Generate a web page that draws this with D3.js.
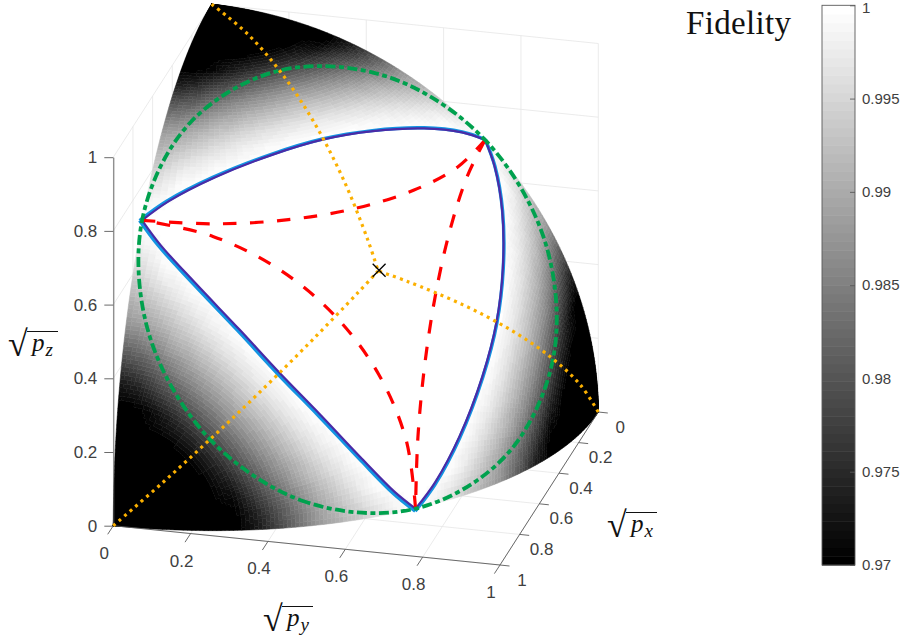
<!DOCTYPE html>
<html>
<head>
<meta charset="utf-8">
<script src="https://cdnjs.cloudflare.com/ajax/libs/d3/7.8.5/d3.min.js"></script>
<style>
  html, body { margin: 0; background: #fff; }
  svg { display: block; }
  .tick-label { font-family: "Liberation Sans", sans-serif; fill: #404040; }
  .math { font-family: "Liberation Serif", serif; fill: #111; }
</style>
</head>
<body>
<div id="chart"></div>
<script>
// fidelity read off the picture around one corner of the octant (the three corners look alike)
// rows: degrees away from the corner, columns: degrees around it, 45 to 90 mirrors 45 to 0
var capAngles = [0, 3, 6, 9, 12, 15, 18, 21, 24, 27, 30, 33, 36, 39, 42, 45];
var aroundAngles = [0, 7.5, 15, 22.5, 30, 37.5, 45];
var capFidelity = [
  [.97,.97,.97,.97,.97,.97,.97],
  [.97,.97,.97,.97,.97,.97,.97],
  [.97,.97,.97,.97,.97,.97,.97],
  [.97,.97,.97,.97,.97,.97,.97],
  [.97,.97,.97,.97,.97,.97,.97],
  [.97,.97,.97,.97,.97,.97,.97],
  [.97,.97,.9708,.9726,.9741,.975,.9754],
  [.9727,.9743,.9769,.9789,.9805,.9814,.9819],
  [.9781,.9798,.9825,.9847,.9863,.9873,.9878],
  [.9832,.9849,.9877,.9899,.9915,.9924,.9929],
  [.9878,.9895,.9924,.9944,.9959,.9967,.9971],
  [.9905,.9933,.996,.998,.9992,.9997,.9999],
  [.9933,.9968,.999,1,1,1,1],
  [.9957,.9994,1,1,1,1,1],
  [.9983,1,1,1,1,1,1],
  [1,1,1,1,1,1,1]
];

var axisTicks = [0, 0.2, 0.4, 0.6, 0.8, 1];
var tickNames = ["0", "0.2", "0.4", "0.6", "0.8", "1"];
var colorbarTicks = [0.97, 0.975, 0.98, 0.985, 0.99, 0.995, 1];
var colorbarNames = ["0.97", "0.975", "0.98", "0.985", "0.99", "0.995", "1"];

// curves on the sphere, [sqrt px, sqrt py, sqrt pz]
var outline = [
  [1,0,0],[.966,.259,0],[.866,.5,0],[.707,.707,0],[.5,.866,0],[.259,.966,0],
  [0,1,0],[0,.966,.259],[0,.866,.5],[0,.707,.707],[0,.5,.866],[0,.259,.966],
  [0,0,1],[.259,0,.966],[.5,0,.866],[.707,0,.707],[.866,0,.5],[.966,0,.259]
];
var greenCircle = [
  [.7071,.7071,0],[.8796,.4714,.0632],[.9429,.2357,.2357],[.8796,.0632,.4714],
  [.7071,0,.7071],[.4714,.0632,.8796],[.2357,.2357,.9429],[.0632,.4714,.8796],
  [0,.7071,.7071],[.0632,.8796,.4714],[.2357,.9429,.2357],[.4714,.8796,.0632]
];
var orangeTop = [[0,0,1],[.1228,.1228,.9848],[.2418,.2418,.9397],[.3536,.3536,.866],[.4545,.4545,.766],[.5417,.5417,.6428],[.5774,.5774,.5774]];
var orangeLeft = [[1,0,0],[.9848,.1228,.1228],[.9397,.2418,.2418],[.866,.3536,.3536],[.766,.4545,.4545],[.6428,.5417,.5417],[.5774,.5774,.5774]];
var orangeRight = [[0,1,0],[.1228,.9848,.1228],[.2418,.9397,.2418],[.3536,.866,.3536],[.4545,.766,.4545],[.5417,.6428,.5417],[.5774,.5774,.5774]];
var redTop = [[.7071,0,.7071],[.683,.183,.7071],[.612,.354,.7071],[.5,.5,.7071],[.354,.612,.7071],[.183,.683,.7071],[0,.7071,.7071]];
var redLeft = [[.7071,.7071,0],[.7071,.683,.183],[.7071,.612,.354],[.7071,.5,.5],[.7071,.354,.612],[.7071,.183,.683],[.7071,0,.7071]];
var redRight = [[0,.7071,.7071],[.183,.7071,.683],[.354,.7071,.612],[.5,.7071,.5],[.612,.7071,.354],[.683,.7071,.183],[.7071,.7071,0]];
var blueLeft = [[.7071,.7071,0],[.7468,.6625,.058],[.7916,.59,.158],[.825,.489,.2825],[.8355,.388,.388],[.825,.2825,.489],[.7916,.158,.59],[.7468,.058,.6625],[.7071,0,.7071]];
var blueTop = [[.7071,0,.7071],[.6625,.058,.7468],[.59,.158,.7916],[.489,.2825,.825],[.388,.388,.8355],[.2825,.489,.825],[.158,.59,.7916],[.058,.6625,.7468],[0,.7071,.7071]];
var blueRight = [[0,.7071,.7071],[.058,.7468,.6625],[.158,.7916,.59],[.2825,.825,.489],[.388,.8355,.388],[.489,.825,.2825],[.59,.7916,.158],[.6625,.7468,.058],[.7071,.7071,0]];
var centerPoint = [.5774,.5774,.5774];

var svg = d3.select("#chart").append("svg")
    .attr("width", 905)
    .attr("height", 641);

// oblique projection of the matlab view, one scale per screen component
var xToLeft = d3.scaleLinear().domain([0,1]).range([0,-98.3]);
var xToTop = d3.scaleLinear().domain([0,1]).range([0,153]);
var yToLeft = d3.scaleLinear().domain([0,1]).range([0,386.7]);
var yToTop = d3.scaleLinear().domain([0,1]).range([0,39.3]);
var zToTop = d3.scaleLinear().domain([0,1]).range([0,-368.5]);

function project(p) {
  return [211.6 + xToLeft(p[0]) + yToLeft(p[1]),
          372.7 + xToTop(p[0]) + yToTop(p[1]) + zToTop(p[2])];
}

var curve = d3.line().curve(d3.curveCatmullRom.alpha(0.5));
function path3d(points) { return curve(points.map(project)); }

// Back walls and floor grid
var grid = svg.append("g")
    .attr("fill", "none")
    .attr("stroke", "#e6e6e6")
    .attr("stroke-width", 0.8);

function gridLine(a, b) {
  grid.append("path").attr("d", d3.line()([project(a), project(b)]));
}

axisTicks.forEach(function(t) {
  gridLine([t,0,0], [t,1,0]);
  gridLine([0,t,0], [1,t,0]);
  gridLine([t,0,0], [t,0,1]);
  gridLine([0,t,0], [0,t,1]);
  gridLine([1,0,t], [0,0,t]);
  gridLine([0,0,t], [0,1,t]);
});

// Surface, split in 64 gray levels like the colormap
var level = d3.scaleQuantize().domain([0.97, 1]).range(d3.range(64));
var gray = d3.scaleLinear().domain([0, 63]).range(["#000000", "#ffffff"]);
var levelPaths = d3.range(64).map(function() { return d3.path(); });
var rad = Math.PI / 180;
var sub = 5;

// white middle of the octant, the caps around the corners go on top
svg.append("path")
    .attr("d", d3.line()(outline.map(project)) + "Z")
    .attr("fill", "#fff");

function capValue(ti, ai) {
  return capFidelity[ti][ai > 6 ? 12 - ai : ai];
}

function aroundAngle(ai) {
  return ai > 6 ? 90 - aroundAngles[12 - ai] : aroundAngles[ai];
}

// axes of one corner: [corner, first side, second side]
[[0,1,2], [1,2,0], [2,0,1]].forEach(function(order) {
  function point(theta, around) {
    var p = [0,0,0];
    p[order[0]] = Math.cos(theta * rad);
    p[order[1]] = Math.sin(theta * rad) * Math.cos(around * rad);
    p[order[2]] = Math.sin(theta * rad) * Math.sin(around * rad);
    return project(p);
  }
  for (var ti = 0; ti < capAngles.length - 1; ti++) {
    for (var ai = 0; ai < 12; ai++) {
      var t0 = capAngles[ti], t1 = capAngles[ti + 1];
      var a0 = aroundAngle(ai), a1 = aroundAngle(ai + 1);
      var f00 = capValue(ti, ai), f01 = capValue(ti, ai + 1);
      var f10 = capValue(ti + 1, ai), f11 = capValue(ti + 1, ai + 1);
      for (var u = 0; u < sub; u++) {
        for (var v = 0; v < sub; v++) {
          var uMid = (u + 0.5) / sub, vMid = (v + 0.5) / sub;
          var f = (f00 * (1 - vMid) + f01 * vMid) * (1 - uMid) + (f10 * (1 - vMid) + f11 * vMid) * uMid;
          var ctx = levelPaths[level(f)];
          var tA = t0 + (t1 - t0) * u / sub, tB = t0 + (t1 - t0) * (u + 1) / sub;
          var aA = a0 + (a1 - a0) * v / sub, aB = a0 + (a1 - a0) * (v + 1) / sub;
          var c1 = point(tA, aA), c2 = point(tB, aA), c3 = point(tB, aB), c4 = point(tA, aB);
          ctx.moveTo(c1[0], c1[1]);
          ctx.lineTo(c2[0], c2[1]);
          ctx.lineTo(c3[0], c3[1]);
          ctx.lineTo(c4[0], c4[1]);
          ctx.closePath();
        }
      }
    }
  }
});

svg.append("g").selectAll("path")
  .data(d3.range(64))
  .join("path")
    .attr("d", function(d) { return levelPaths[d].toString(); })
    .attr("fill", function(d) { return gray(d); })
    .attr("stroke", function(d) { return gray(d); })
    .attr("stroke-width", 0.5)
    .attr("stroke-linejoin", "round");

// Axes
var axisColor = "#5a5a5a";
var axes = svg.append("g")
    .attr("fill", "none")
    .attr("stroke", axisColor)
    .attr("stroke-width", 0.9);

function axisLine(a, b) {
  axes.append("path").attr("d", d3.line()([a, b]));
}

axisLine(project([1,0,0]), project([1,1,0]));
axisLine(project([0,1,0]), project([1,1,0]));

axisTicks.forEach(function(t, idx) {
  // sqrt(py) ticks along the front floor edge
  var py = project([1,t,0]);
  axisLine(py, [py[0] - 5.6, py[1] + 8.6]);
  svg.append("text").attr("class", "tick-label")
      .attr("x", py[0] - 9)
      .attr("y", py[1] + 33)
      .attr("font-size", 17)
      .attr("text-anchor", "middle")
      .text(tickNames[idx]);
  // sqrt(px) ticks along the right floor edge
  var px = project([t,1,0]);
  axisLine(px, [px[0] + 9.5, px[1] + 1]);
  svg.append("text").attr("class", "tick-label")
      .attr("x", px[0] + 22)
      .attr("y", px[1] + 20.5)
      .attr("font-size", 17)
      .attr("text-anchor", "middle")
      .text(tickNames[idx]);
});

// z axis
var zScale = d3.scaleLinear().domain([0,1]).range([525.7, 157.2]);
var zAxis = svg.append("g")
    .attr("transform", "translate(113.3,0)")
    .call(d3.axisLeft(zScale)
      .tickValues(axisTicks)
      .tickFormat(function(d, idx) { return tickNames[idx]; })
      .tickSize(9)
      .tickSizeOuter(0)
      .tickPadding(7));
zAxis.selectAll("path, line").attr("stroke", axisColor).attr("stroke-width", 0.9);
zAxis.selectAll("text")
    .attr("class", "tick-label")
    .attr("font-size", 17);

// Curves on the sphere
var curves = svg.append("g").attr("fill", "none");

// cyan one sits a hair outside the purple one, more so on the long left side
var center = project(centerPoint);
var cyan = curves.append("g")
    .attr("transform", "translate(" + (center[0] - 0.6) + "," + (center[1] + 0.6) + ") scale(1.008) translate(" + (-center[0]) + "," + (-center[1]) + ")");
[blueLeft, blueTop, blueRight].forEach(function(c) {
  cyan.append("path").attr("d", path3d(c))
      .attr("stroke", "#1394e2")
      .attr("stroke-width", 3.4);
});
[blueLeft, blueTop, blueRight].forEach(function(c) {
  curves.append("path").attr("d", path3d(c))
      .attr("stroke", "#4a2ba6")
      .attr("stroke-width", 2.2);
});

[redTop, redLeft, redRight].forEach(function(c) {
  curves.append("path").attr("d", path3d(c))
      .attr("stroke", "#ff0000")
      .attr("stroke-width", 3.2)
      .attr("stroke-dasharray", "13.5 13.5");
});

curves.append("path")
    .attr("d", d3.line().curve(d3.curveCatmullRomClosed.alpha(0.5))(greenCircle.map(project)))
    .attr("stroke", "#00a14e")
    .attr("stroke-width", 3.8)
    .attr("stroke-dasharray", "10 3.5 5 3.5");

[orangeTop, orangeLeft, orangeRight].forEach(function(c) {
  curves.append("path").attr("d", path3d(c))
      .attr("stroke", "#fbb000")
      .attr("stroke-width", 3.2)
      .attr("stroke-dasharray", "3 4.3");
});

// Center marker
svg.append("path")
    .attr("d", d3.symbol().type(d3.symbolX).size(110)())
    .attr("transform", "translate(" + (center[0] + 1) + "," + (center[1] - 0.7) + ")")
    .attr("fill", "none")
    .attr("stroke", "#000")
    .attr("stroke-width", 1.3);

// Axis labels
function sqrtLabel(x, y, sub) {
  var g = svg.append("g").attr("transform", "translate(" + x + "," + y + ")");
  g.append("text").attr("class", "math")
      .attr("x", 0).attr("y", 0)
      .attr("font-size", 36)
      .text("\u221A");
  g.append("path")
      .attr("d", "M19,-24.5H50")
      .attr("stroke", "#111").attr("stroke-width", 1).attr("fill", "none");
  var t = g.append("text").attr("class", "math")
      .attr("x", 24).attr("y", -5)
      .attr("font-size", 25)
      .attr("font-style", "italic")
      .text("p");
  t.append("tspan")
      .attr("dy", 5)
      .attr("dx", 1)
      .attr("font-size", 19)
      .text(sub);
}
sqrtLabel(8, 356, "z");
sqrtLabel(263, 631, "y");
sqrtLabel(607, 537, "x");

// Colorbar
var barScale = d3.scaleLinear().domain([0.97, 1]).range([565, 5.3]);
var bar = svg.append("g");
bar.selectAll("rect")
  .data(d3.range(64))
  .join("rect")
    .attr("x", 822)
    .attr("width", 33)
    .attr("y", function(d) { return barScale(0.97 + (d + 1) * 0.03 / 64); })
    .attr("height", function(d) { return barScale(0.97) - barScale(0.97 + 0.03 / 64) + 0.5; })
    .attr("fill", function(d) { return gray(d); });
bar.append("rect")
    .attr("x", 822).attr("y", 5.3).attr("width", 33).attr("height", 559.7)
    .attr("fill", "none").attr("stroke", axisColor).attr("stroke-width", 0.9);

var barAxis = svg.append("g")
    .attr("transform", "translate(855,0)")
    .call(d3.axisRight(barScale)
      .tickValues(colorbarTicks)
      .tickFormat(function(d, idx) { return colorbarNames[idx]; })
      .tickSize(-5)
      .tickSizeOuter(0)
      .tickPadding(7));
barAxis.select(".domain").remove();
barAxis.selectAll("line").attr("stroke", axisColor).attr("stroke-width", 0.9);
barAxis.selectAll("text")
    .attr("class", "tick-label")
    .attr("font-size", 15)
    .attr("dy", function(d) { return d === 1 ? "0.45em" : "0.32em"; });

svg.append("text").attr("class", "math")
    .attr("x", 686).attr("y", 34)
    .attr("font-size", 33)
    .attr("textLength", 105)
    .attr("fill", "#222")
    .text("Fidelity");
</script>
</body>
</html>
